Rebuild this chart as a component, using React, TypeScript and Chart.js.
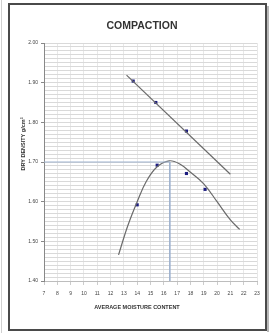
import React, { useEffect, useRef } from "react";
import { Chart, registerables } from "chart.js";

Chart.register(...registerables);

const chartTitle = "COMPACTION";
const xTitle = "AVERAGE MOISTURE CONTENT";
const yTitle = "DRY DENSITY g/cm³";

const pointX = [13.7, 15.4, 17.7, 14.0, 15.5, 17.7, 19.1];
const pointY = [1.904, 1.85, 1.778, 1.592, 1.692, 1.671, 1.631];

const zavX = [13.2, 21.0];
const zavY = [1.919, 1.669];

const curveX = [12.6, 13.3, 14.0, 14.7, 15.5, 16.4, 17.2, 18.0, 19.0, 20.0, 21.0, 21.7];
const curveY = [1.466, 1.54, 1.6, 1.652, 1.688, 1.703, 1.695, 1.674, 1.645, 1.6, 1.554, 1.53];

const optMoisture = 16.45;
const maxDensity = 1.7;

const xMin = 7;
const xMax = 23;
const yMin = 1.4;
const yMax = 2.0;

const toXY = (xs: number[], ys: number[]) => xs.map((x, i) => ({ x, y: ys[i] }));

const framePlugin = {
  id: "frame",
  beforeDraw(chart: any) {
    const ctx = chart.ctx;
    ctx.save();
    ctx.fillStyle = "#ffffff";
    ctx.fillRect(0, 0, chart.width, chart.height);
    ctx.restore();
  },
  afterDraw(chart: any) {
    const ctx = chart.ctx;
    ctx.save();
    ctx.strokeStyle = "#d0d0d0";
    ctx.lineWidth = 1;
    ctx.beginPath();
    ctx.moveTo(1.5, 0);
    ctx.lineTo(1.5, chart.height);
    ctx.stroke();
    ctx.strokeStyle = "#b8b8b8";
    ctx.lineWidth = 2;
    ctx.beginPath();
    ctx.moveTo(268, 6);
    ctx.lineTo(268, 332);
    ctx.stroke();
    ctx.strokeStyle = "#4a4a4a";
    ctx.lineWidth = 2;
    ctx.strokeRect(9, 4, 257, 326);
    // axis titles
    ctx.fillStyle = "#333333";
    ctx.font = "bold 5.5px 'Liberation Sans', sans-serif";
    ctx.textAlign = "center";
    ctx.textBaseline = "middle";
    ctx.fillText(xTitle, 137, 307);
    ctx.translate(23, 144);
    ctx.rotate(-Math.PI / 2);
    ctx.fillText(yTitle, 0, 0);
    ctx.restore();
  },
};

export default function App() {
  const ref = useRef<HTMLCanvasElement | null>(null);
  useEffect(() => {
    document.body.style.margin = "0";
    const canvas = ref.current;
    if (!canvas) return;
    const chart = new Chart(canvas, {
      type: "scatter",
      data: {
        datasets: [
          {
            label: "Max density",
            type: "line",
            data: [
              { x: xMin, y: maxDensity },
              { x: optMoisture, y: maxDensity },
              { x: optMoisture, y: yMin },
            ],
            borderColor: "#9fb3cf",
            borderWidth: 1,
            pointRadius: 0,
            tension: 0,
            fill: false,
          },
          {
            label: "Curve",
            type: "line",
            data: toXY(curveX, curveY),
            borderColor: "#6a6a6a",
            borderWidth: 1.2,
            pointRadius: 0,
            tension: 0.4,
            fill: false,
          },
          {
            label: "ZAV",
            type: "line",
            data: toXY(zavX, zavY),
            borderColor: "#6a6a6a",
            borderWidth: 1.2,
            pointRadius: 0,
            tension: 0,
            fill: false,
          },
          {
            label: "Points",
            data: toXY(pointX, pointY),
            backgroundColor: "#1c1c80",
            borderColor: "#1c1c80",
            pointStyle: "rect",
            pointRadius: 2.2,
            borderWidth: 0,
          },
        ],
      },
      options: {
        animation: false,
        responsive: false,
        layout: { padding: { left: 27, right: 16, top: 0, bottom: 20 } },
        plugins: {
          legend: { display: false },
          tooltip: { enabled: false },
          title: {
            display: true,
            text: chartTitle,
            color: "#333333",
            font: { family: "'Liberation Sans', sans-serif", size: 10.5, weight: "bold" },
            padding: { top: 20, bottom: 10.4 },
          },
        },
        scales: {
          x: {
            type: "linear",
            min: xMin,
            max: xMax,
            ticks: {
              stepSize: 1,
              color: "#444444",
              font: { family: "'Liberation Sans', sans-serif", size: 5 },
              padding: 6,
              maxRotation: 0,
              autoSkip: false,
            },
            grid: { color: "#e8e8e8", tickLength: 4, tickColor: "#cccccc" },
            border: { color: "#bdbdbd" },
            afterFit: (s: any) => {
              s.height = 32;
            },
          },
          y: {
            type: "linear",
            min: yMin,
            max: yMax,
            ticks: {
              stepSize: 0.01,
              maxTicksLimit: 100,
              autoSkip: false,
              color: "#444444",
              font: { family: "'Liberation Sans', sans-serif", size: 5 },
              padding: 3,
              callback: (v: any) => {
                const n = Number(v) * 10;
                return Math.abs(n - Math.round(n)) < 1e-6 ? Number(v).toFixed(2) : "";
              },
            },
            grid: {
              color: "#d9d9d9",
              tickLength: 3,
              tickColor: (c: any) => {
                const n = c.tick ? c.tick.value * 10 : 0;
                return Math.abs(n - Math.round(n)) < 1e-6 ? "#888888" : "rgba(0,0,0,0)";
              },
            },
            border: { color: "#888888" },
            afterFit: (s: any) => {
              s.width = 17;
            },
          },
        },
      },
      plugins: [framePlugin],
    } as any);
    return () => chart.destroy();
  }, []);
  return (
    <div style={{ width: 273, height: 333 }}>
      <canvas ref={ref} width={273} height={333} style={{ display: "block" }} />
    </div>
  );
}
